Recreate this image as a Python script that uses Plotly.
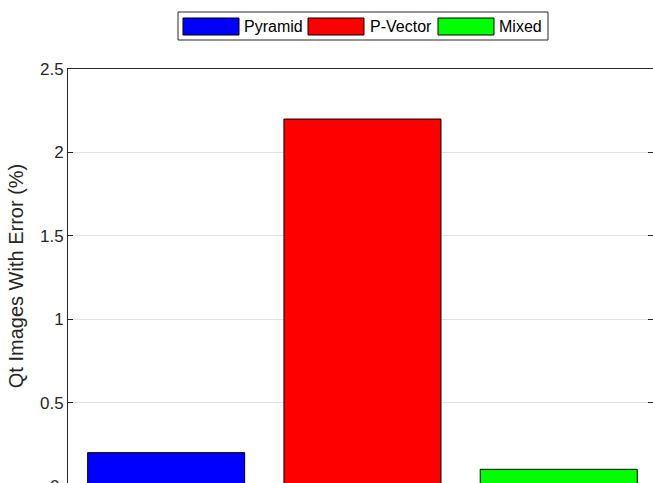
import plotly.graph_objects as go

# Data
methods = ["Pyramid", "P-Vector", "Mixed"]
error_pct = [0.2, 2.2, 0.1]
bar_colors = ["#0000ff", "#ff0000", "#00ff00"]
y_ticks = [0, 0.5, 1, 1.5, 2, 2.5]
y_ticklabels = ["0", "0.5", "1", "1.5", "2", "2.5"]

W, H = 653, 483
ML, MT = 68, 69
PW, PH = W - ML, H - MT
PX_PER_CAT = 196.3
PX_PER_UNIT = 166.8
AXIS_GREY = "#262626"
FONT = "Liberation Sans, Arial, Helvetica, sans-serif"


def px_x(px):
    return (px - ML) / PW


def px_y(py):
    return (H - py) / PH


fig = go.Figure()
for name, val, col in zip(methods, error_pct, bar_colors):
    fig.add_trace(go.Bar(
        x=[name], y=[val], name=name, width=0.8,
        marker=dict(color=col, line=dict(color="#000000", width=1)),
        showlegend=False,
    ))

# Boxed legend with wide swatches above the axes
shapes = [dict(type="rect", xref="paper", yref="paper",
               x0=px_x(178), x1=px_x(548), y0=px_y(40), y1=px_y(12),
               line=dict(color=AXIS_GREY, width=1), fillcolor="white", layer="above")]
annotations = []
swatch_x = [183, 308, 438]
text_x = [242, 368, 497]
for name, col, sx, tx in zip(methods, bar_colors, swatch_x, text_x):
    shapes.append(dict(type="rect", xref="paper", yref="paper",
                       x0=px_x(sx), x1=px_x(sx + 56), y0=px_y(35), y1=px_y(18),
                       line=dict(color="#000000", width=1), fillcolor=col, layer="above"))
    annotations.append(dict(xref="paper", yref="paper", x=px_x(tx), y=px_y(26.5),
                            text=name, showarrow=False, xanchor="left", yanchor="middle",
                            font=dict(family=FONT, size=16, color="#000000")))

# Zero tick label sits just below the visible area
annotations.append(dict(xref="paper", yref="paper", x=px_x(61), y=px_y(486),
                        text=y_ticklabels[0], showarrow=False, xanchor="right",
                        yanchor="middle", font=dict(family=FONT, size=17, color=AXIS_GREY)))

fig.update_layout(
    width=W, height=H,
    margin=dict(l=ML, r=0, t=MT, b=0, pad=0),
    paper_bgcolor="white", plot_bgcolor="white",
    font=dict(family=FONT, color=AXIS_GREY),
    bargap=0.2,
    showlegend=False,
    shapes=shapes,
    annotations=annotations,
    xaxis=dict(
        type="category", categoryorder="array", categoryarray=methods,
        range=[-0.5, -0.5 + PW / PX_PER_CAT],
        showticklabels=False, ticks="", showgrid=False,
        showline=True, linecolor=AXIS_GREY, linewidth=1, mirror=True,
        zeroline=False,
    ),
    yaxis=dict(
        range=[2.5 - PH / PX_PER_UNIT, 2.5],
        tickvals=y_ticks, ticktext=y_ticklabels,
        ticks="inside", ticklen=5, tickwidth=1, tickcolor=AXIS_GREY,
        tickfont=dict(family=FONT, size=17, color=AXIS_GREY),
        showgrid=True, gridcolor="#e2e2e2", gridwidth=1,
        showline=True, linecolor=AXIS_GREY, linewidth=1, mirror="ticks",
        zeroline=False,
        title=dict(text="Qt Images With Error (%)", standoff=10,
                   font=dict(family=FONT, size=20, color=AXIS_GREY)),
    ),
)

fig.write_html("out.html")
